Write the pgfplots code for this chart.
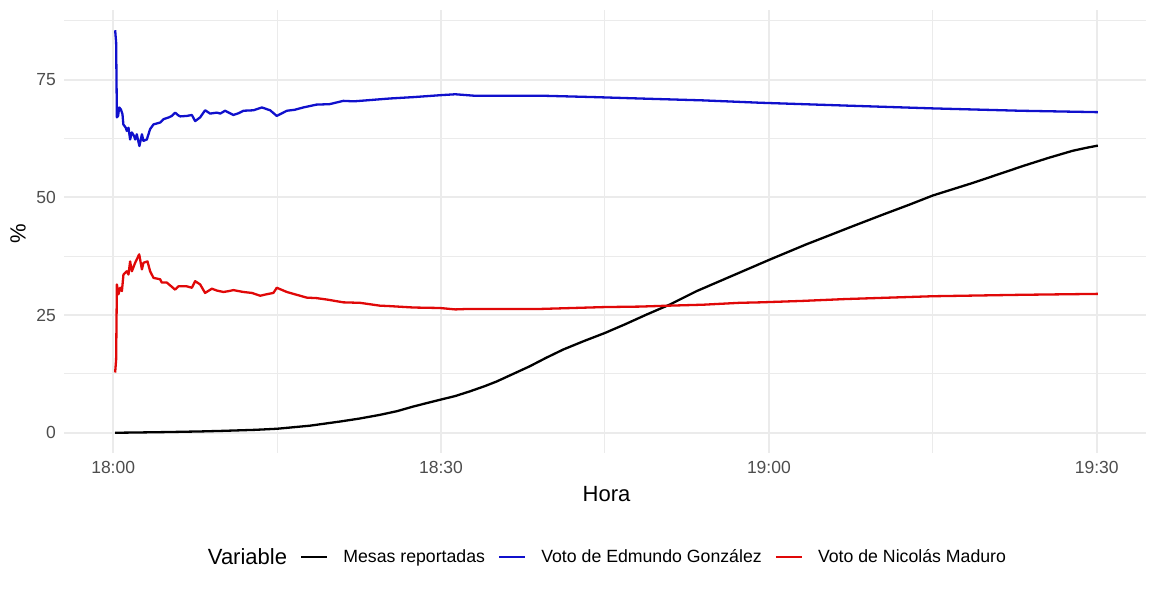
\documentclass[border=0pt]{standalone}
\usepackage{fontspec}
\setmainfont{Liberation Sans}
\usepackage{pgfplots}
\pgfplotsset{compat=1.18}
\definecolor{gridc}{HTML}{EBEBEB}
\definecolor{tickc}{HTML}{4D4D4D}
\definecolor{blueline}{HTML}{1010CC}
\definecolor{redline}{HTML}{E00808}
\begin{document}
\begin{tikzpicture}
\useasboundingbox (0,0) rectangle (1158bp,595bp);
\begin{axis}[
  at={(64bp,142bp)}, anchor=south west,
  scale only axis, width=1082bp, height=443bp,
  xmin=-4.5, xmax=94.5, ymin=-4.3, ymax=89.8,
  xtick={0,30,60,90}, xticklabels={18:00,18:30,19:00,19:30},
  ytick={0,25,50,75},
  minor xtick={15,45,75}, minor ytick={12.5,37.5,62.5,87.5},
  grid=both,
  major grid style={draw=gridc, line width=1.9bp},
  minor grid style={draw=gridc, line width=1bp},
  axis line style={draw=none},
  major tick length=0pt, minor tick length=0pt,
  tick style={draw=none},
  ticklabel style={font=\fontsize{17.5bp}{20bp}\selectfont, text=tickc, inner sep=0pt},
  xticklabel style={anchor=north, yshift=-8bp},
  yticklabel style={anchor=east, xshift=-8bp},
  /pgf/number format/assume math mode=true,
  xlabel={Hora}, ylabel={\%},
  xlabel style={at={(axis description cs:0.5014,0)}, anchor=north, inner sep=0pt, yshift=-33bp, font=\fontsize{22bp}{26bp}\selectfont},
  ylabel style={at={(axis description cs:-0.0425,0.494)}, anchor=center, inner sep=0pt, font=\fontsize{22bp}{26bp}\selectfont},
  legend columns=-1,
  legend image code/.code={\draw[#1] (0bp,0bp) -- (26bp,0bp);},
  legend style={at={(axis description cs:0.1192,-0.2348)}, anchor=west, draw=none, fill=none, inner sep=0pt, outer sep=0pt,
    nodes={inner sep=0pt}, font=\fontsize{17.7bp}{20bp}\selectfont,
    /tikz/every odd column/.append style={column sep=15bp},
    /tikz/every even column/.append style={column sep=13bp}},
]
\addlegendimage{empty legend}
\addlegendentry{\fontsize{22bp}{26bp}\selectfont Variable}
\addplot[black, line width=2.3bp, line join=round] table {
0.18 0.0
2 0.05
5 0.15
8 0.28
10 0.4
13 0.62
15 0.85
18 1.5
20.8 2.4
22.5 3.0
24.4 3.8
26.0 4.6
27.5 5.6
29.9 7.0
31.3 7.8
32.65 8.8
34.0 9.9
35.1 10.9
36.6 12.5
38.1 14.1
39.6 15.9
41.2 17.7
43.1 19.5
45.0 21.2
46.9 23.1
48.8 25.1
50.9 27.2
53.4 30.1
55.4 32.1
57.3 34.0
60.1 36.8
63.4 40.0
65.5 41.9
67.7 43.9
70.5 46.4
72.8 48.4
75.0 50.4
78.7 53.1
81.0 54.9
83.3 56.7
85.6 58.4
87.8 59.9
89.0 60.5
90.1 61.0
};
\addlegendentry{Mesas reportadas}
\addplot[blueline, line width=2.3bp, line join=round] table {
0.18 85.5
0.27 82.9
0.34 67.0
0.45 67.3
0.55 69.1
0.70 68.7
0.85 67.7
0.93 65.5
1.15 64.8
1.25 64.1
1.40 64.8
1.55 62.3
1.71 63.8
1.92 63.0
2.01 62.3
2.16 63.4
2.40 60.9
2.63 63.4
2.77 62.0
3.08 62.3
3.38 64.5
3.69 65.5
4.00 65.7
4.30 65.9
4.60 66.6
5.10 67.0
5.37 67.3
5.67 68.0
5.97 67.4
6.13 67.2
6.74 67.3
7.20 67.5
7.50 66.2
7.96 67.0
8.41 68.5
8.87 67.8
9.50 68.0
9.80 67.8
10.24 68.4
11.0 67.5
11.5 67.9
11.92 68.4
12.84 68.5
13.60 69.1
14.36 68.5
14.97 67.3
15.89 68.4
16.6 68.6
17.40 69.1
18.6 69.7
19.8 69.8
21.06 70.5
22.0 70.4
22.59 70.5
25.3 71.0
27.5 71.3
29.9 71.7
31.3 71.9
33.0 71.6
35.0 71.6
39.1 71.6
44.0 71.3
48.2 71.0
54.0 70.6
59.2 70.1
67.0 69.5
75.0 68.9
83.0 68.4
90.1 68.1
};
\addlegendentry{Voto de Edmundo González}
\addplot[redline, line width=2.3bp, line join=round] table {
0.18 12.8
0.27 15.5
0.34 31.5
0.48 29.4
0.64 30.8
0.80 30.1
0.94 33.6
1.25 34.3
1.40 33.6
1.55 36.4
1.71 34.3
2.01 36.1
2.38 37.9
2.63 34.7
2.77 36.1
3.14 36.4
3.38 34.3
3.69 32.9
4.30 32.6
4.45 31.9
4.91 31.9
5.67 30.4
5.97 31.1
6.74 31.1
7.20 30.8
7.50 32.2
7.96 31.5
8.41 29.7
9.03 30.6
9.5 30.2
10.09 29.9
10.6 30.1
11.00 30.3
11.92 29.9
12.7 29.7
13.45 29.1
14.0 29.4
14.66 29.7
14.97 30.8
15.89 29.9
16.8 29.3
17.72 28.7
18.6 28.6
19.55 28.3
21.06 27.7
22.59 27.6
24.4 27.0
25.3 26.9
27.5 26.6
29.9 26.5
31.3 26.2
32.5 26.3
35.0 26.3
39.1 26.3
45.0 26.7
48.2 26.8
50.9 27.0
54.0 27.2
57.3 27.6
59.2 27.7
63.0 28.0
67.0 28.4
75.0 29.0
83.0 29.3
90.1 29.5
};
\addlegendentry{Voto de Nicolás Maduro}
\end{axis}
\end{tikzpicture}
\end{document}
